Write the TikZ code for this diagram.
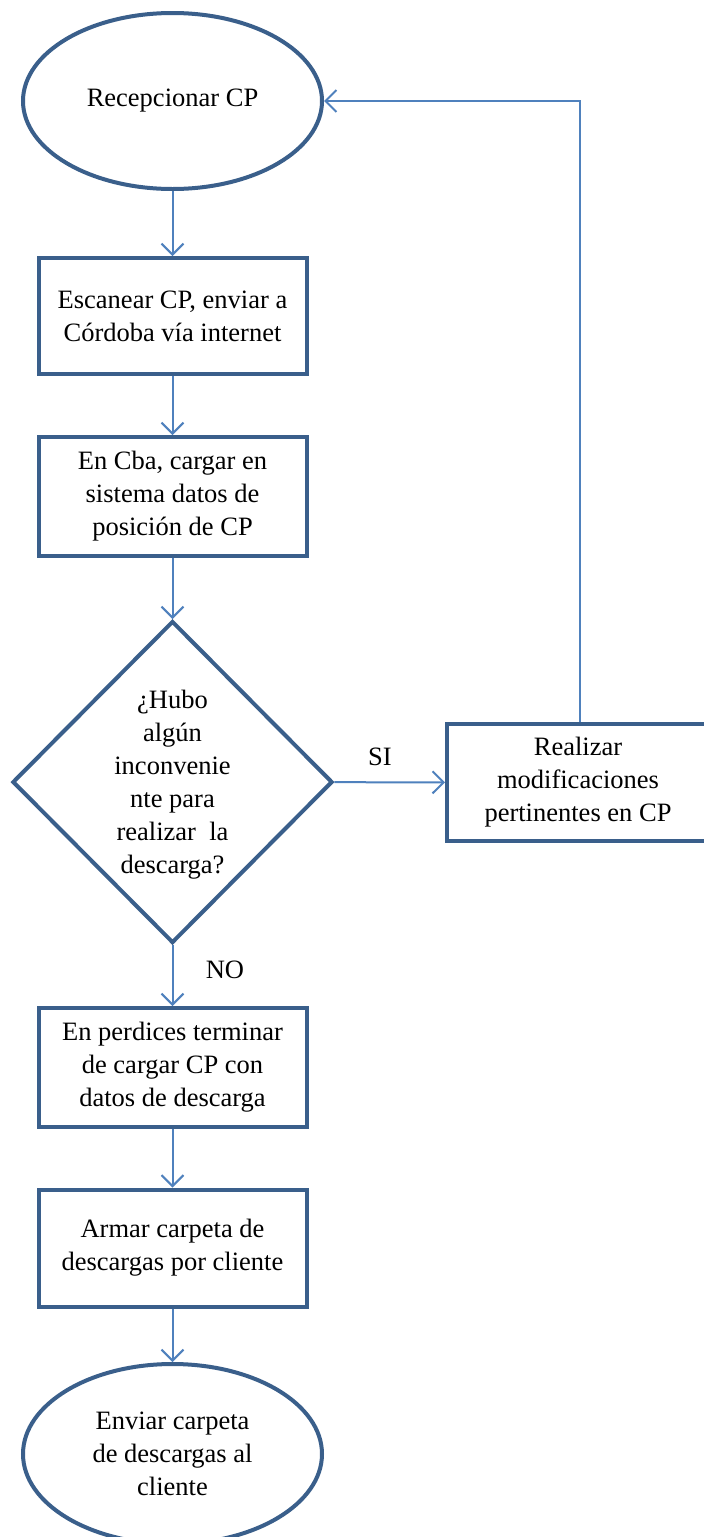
\documentclass[tikz,border=0pt]{standalone}
\usepackage{fontspec}
\setmainfont{Liberation Serif}
\usetikzlibrary{shapes.geometric,arrows.meta}
\definecolor{nodeblue}{HTML}{3A5F8B}
\definecolor{lineblue}{HTML}{4F81BD}
\begin{document}
\begin{tikzpicture}[x=1pt,y=-1pt,
  txt/.style={font=\fontsize{26.5}{33}\selectfont, align=center, text=black, inner sep=0pt},
  boxnode/.style={txt, draw=nodeblue, line width=4pt, rectangle, minimum width=268pt},
  ovalnode/.style={txt, draw=nodeblue, line width=4pt, ellipse, minimum width=299pt, minimum height=176pt},
  decnode/.style={draw=nodeblue, line width=4pt, diamond, minimum width=320pt, minimum height=322pt, inner sep=0pt},
  conn/.style={draw=lineblue, line width=2pt, -{Straight Barb[length=11pt,width=22pt,line width=2pt]}},
  lbl/.style={font=\fontsize{26.5}{33}\selectfont, text=black, inner sep=0pt}
]
\useasboundingbox (0,0) rectangle (704,1537);
\fill[white] (0,0) rectangle (704,1537);

\node[ovalnode] (e1) at (172.5,101) {Recepcionar CP};
\node[boxnode, minimum height=116pt] (b1) at (172.5,316) {Escanear CP, enviar a\\Córdoba vía internet};
\node[boxnode, minimum height=119pt] (b2) at (172.5,496.5) {En Cba, cargar en\\sistema datos de\\posición de CP};
\node[decnode] (d) at (172.5,782) {};
\node[txt] (dt) at (172.5,785) {¿Hubo\\algún\\inconvenie\\nte para\\realizar\ \ la\\descarga?};
\node[boxnode, minimum width=262pt, minimum height=117pt] (rb) at (578,782.5) {Realizar\\modificaciones\\pertinentes en CP};
\node[boxnode, minimum height=119pt] (b3) at (172.5,1067.5) {En perdices terminar\\de cargar CP con\\datos de descarga};
\node[boxnode, minimum height=117pt] (b4) at (172.5,1248) {Armar carpeta de\\descargas por cliente};
\node[ovalnode, minimum height=180pt] (e2) at (172.5,1454) {Enviar carpeta\\de descargas al\\cliente};

\node[lbl] (si) at (380,757) {SI};
\node[lbl] (no) at (225,970) {NO};

\draw[conn] (e1) -- (b1);
\draw[conn] (b1) -- (b2);
\draw[conn] (b2) -- (d);
\draw[conn] (d) -- (rb);
\draw[conn] (d) -- (b3);
\draw[conn] (b3) -- (b4);
\draw[conn] (b4) -- (e2);
\draw[conn] ([xshift=2pt]rb.north) |- (e1.east);
\end{tikzpicture}
\end{document}
